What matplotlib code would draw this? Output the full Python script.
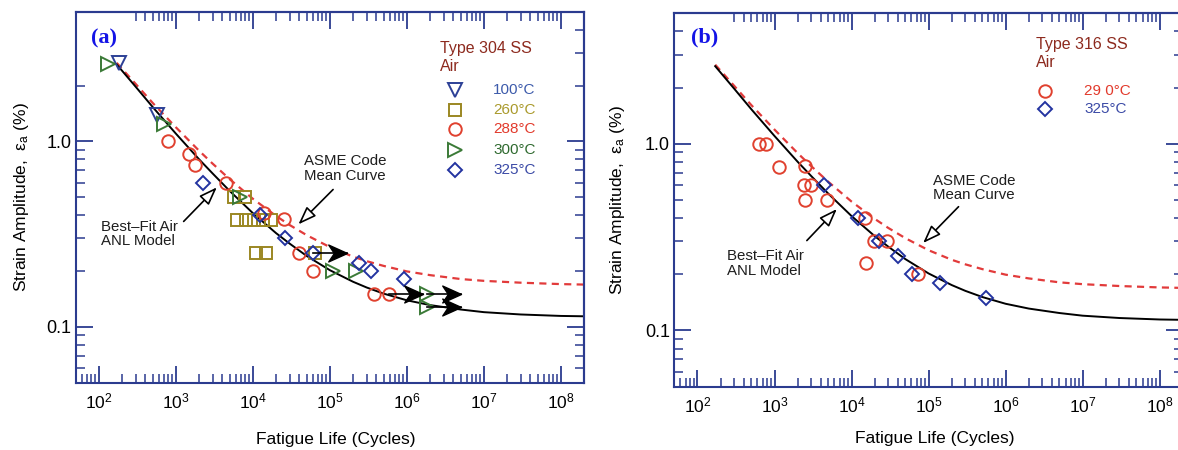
import matplotlib
matplotlib.use("Agg")
import matplotlib.pyplot as plt
from matplotlib.ticker import FixedLocator, NullFormatter
from matplotlib.path import Path

plt.rcParams['font.family'] = ['Liberation Sans', 'DejaVu Sans']
plt.rcParams['mathtext.fontset'] = 'custom'
plt.rcParams['mathtext.rm'] = 'Liberation Sans'
plt.rcParams['mathtext.it'] = 'Liberation Sans:italic'

# ---- data (N = cycles, eps = strain amplitude %) ----
# panel (a): Type 304 SS in air
a_100_N = [180, 560]
a_100_eps = [2.65, 1.38]
a_260_N = [5700, 8000, 6300, 8100, 10400, 13500, 17000, 11000, 15000, 64000]
a_260_eps = [0.50, 0.50, 0.375, 0.375, 0.375, 0.375, 0.375, 0.25, 0.25, 0.25]
a_288_N = [780, 1500, 1780, 4500, 14000, 25000, 40000, 60000, 370000, 580000]
a_288_eps = [1.0, 0.85, 0.75, 0.60, 0.41, 0.38, 0.25, 0.20, 0.15, 0.15]
a_300_N = [130, 700, 6800, 110000, 220000, 1.8e6, 1.8e6]
a_300_eps = [2.6, 1.24, 0.50, 0.20, 0.20, 0.15, 0.128]
a_325_N = [2260, 12300, 26000, 60000, 240000, 340000, 910000]
a_325_eps = [0.60, 0.40, 0.30, 0.25, 0.22, 0.20, 0.18]
a_runout_N = [60000, 580000, 1.8e6, 1.8e6]
a_runout_eps = [0.25, 0.15, 0.15, 0.128]

# panel (b): Type 316 SS in air
b_290_N = [625, 775, 1150, 2500, 2400, 3000, 2500, 4800, 15000, 19400, 29000, 15500, 74000]
b_290_eps = [1.0, 1.0, 0.75, 0.76, 0.60, 0.60, 0.50, 0.50, 0.40, 0.30, 0.30, 0.23, 0.20]
b_325_N = [4350, 12300, 22500, 40000, 61000, 141000, 560000]
b_325_eps = [0.60, 0.40, 0.30, 0.25, 0.20, 0.18, 0.15]

# curves (same in both panels)
curve_N = [170, 300, 500, 1000, 2000, 3000, 5000, 1e4, 2e4, 3e4, 5e4, 1e5, 2e5,
           3e5, 5e5, 1e6, 2e6, 5e6, 1e7, 3e7, 1e8, 2e8]
fit_eps = [2.6, 1.97, 1.53, 1.10, 0.80, 0.671, 0.54, 0.41, 0.32, 0.281, 0.241, 0.202,
           0.175, 0.163, 0.151, 0.139, 0.131, 0.124, 0.120, 0.1166, 0.1145, 0.114]
asme_eps = [2.65, 2.04, 1.61, 1.19, 0.89, 0.758, 0.625, 0.49, 0.396, 0.354, 0.312, 0.269,
            0.239, 0.226, 0.213, 0.199, 0.190, 0.181, 0.177, 0.173, 0.170, 0.169]

x_major = [1e2, 1e3, 1e4, 1e5, 1e6, 1e7, 1e8]
x_major_labels = [r'$\mathregular{10^{%d}}$' % k for k in range(2, 9)]
x_minor = [m * 10 ** d for d in range(1, 8) for m in range(2, 10) if 50 < m * 10 ** d < 1e8]
y_minor = [0.06, 0.07, 0.08, 0.09, 0.2, 0.3, 0.4, 0.5, 0.6, 0.7, 0.8, 0.9, 2, 3, 4]

# ---- styles ----
SPINE = '#2b3b8f'
MARK = {
    '100': dict(marker='v', color='#2c4096', ms=9.5),
    '260': dict(marker='s', color='#9b8722', ms=8.5),
    '288': dict(marker='o', color='#e0412f', ms=9),
    '290': dict(marker='o', color='#e0412f', ms=9),
    '300': dict(marker='>', color='#3b7a37', ms=9.5),
    '325': dict(marker='D', color='#2333a0', ms=7),
}
LABEL_COLOR = {'100': '#3d5bab', '260': '#aa9a2c', '288': '#e23a2c', '290': '#e23a2c',
               '300': '#2f6a2f', '325': '#3b4aa6'}
TITLE_COLOR = '#8d2a1e'
RUNOUT_DEC = 0.45
# concave ("stealth") arrow head, tip at the origin
STEALTH = Path([(0, 0), (-1, 0.45), (-0.7, 0), (-1, -0.45), (0, 0)],
               [Path.MOVETO, Path.LINETO, Path.LINETO, Path.LINETO, Path.CLOSEPOLY])


def setup_axes(ax, hide_left=()):
    ax.set_xscale('log')
    ax.set_yscale('log')
    ax.set_xlim(50, 2e8)
    ax.set_ylim(0.05, 5)
    ax.set_xticks(x_major, labels=x_major_labels)
    ax.xaxis.set_minor_locator(FixedLocator(x_minor))
    ax.xaxis.set_minor_formatter(NullFormatter())
    ax.set_yticks([0.1, 1.0], labels=['0.1', '1.0'])
    ax.yaxis.set_minor_locator(FixedLocator([v for v in y_minor if v not in hide_left]))
    ax.yaxis.set_minor_formatter(NullFormatter())
    ax.tick_params(which='both', direction='in', top=False, right=False, color=SPINE)
    ax.tick_params(which='major', length=12.5, width=1.3)
    ax.tick_params(which='minor', length=6.5, width=1.1)
    ax.tick_params(axis='x', which='major', pad=6, labelsize=12.5)
    ax.tick_params(axis='y', which='major', pad=3, labelsize=13)
    for s in ax.spines.values():
        s.set_color(SPINE)
        s.set_linewidth(1.5)
    top = ax.secondary_xaxis('top')
    top.xaxis.set_major_locator(FixedLocator(x_major[1:]))
    top.xaxis.set_minor_locator(FixedLocator([v for v in x_minor if v >= 300]))
    top.xaxis.set_major_formatter(NullFormatter())
    top.xaxis.set_minor_formatter(NullFormatter())
    right = ax.secondary_yaxis('right')
    right.yaxis.set_major_locator(FixedLocator([0.1, 1.0]))
    right.yaxis.set_minor_locator(FixedLocator(y_minor))
    right.yaxis.set_major_formatter(NullFormatter())
    right.yaxis.set_minor_formatter(NullFormatter())
    for sec in (top, right):
        sec.tick_params(which='both', direction='in', color=SPINE)
        sec.tick_params(which='major', length=12.5, width=1.3)
        sec.tick_params(which='minor', length=6.5, width=1.1)
        for s in sec.spines.values():
            s.set_color(SPINE)
            s.set_linewidth(1.5)


def draw_curves(ax):
    ax.plot(curve_N, asme_eps, color='#e23b3b', lw=1.6, dashes=(3.2, 2.4), zorder=2)
    ax.plot(curve_N, fit_eps, color='black', lw=1.4, zorder=2)


def draw_points(ax, key, N, eps):
    st = MARK[key]
    ax.plot(N, eps, ls='none', marker=st['marker'], ms=st['ms'], mfc='none',
            mec=st['color'], mew=1.4, zorder=3)


def draw_runouts(ax, N, eps):
    for n, e in zip(N, eps):
        tip = n * 10 ** RUNOUT_DEC
        ax.plot([n, tip], [e, e], color='black', lw=1.2, zorder=4)
        ax.plot([tip], [e], ls='none', marker=STEALTH, ms=27, mfc='black', mec='black',
                mew=1.0, zorder=4)


def note(ax, text, txt_xy, tail, tip):
    ax.text(txt_xy[0], txt_xy[1], text, ha='left', va='center', fontsize=10.8,
            color='#1e1e1e', linespacing=1.05)
    ax.annotate('', xy=tip, xytext=tail,
                arrowprops=dict(arrowstyle='-|>,head_length=1.1,head_width=0.4',
                                fc='white', ec='black', lw=1.2, mutation_scale=10,
                                shrinkA=0, shrinkB=0))


def legend(ax, x_title, ys, x_mk, x_lab, title, keys, labels):
    ax.text(x_title, ys[0], title, transform=ax.transAxes, color=TITLE_COLOR,
            fontsize=11.5, va='center')
    ax.text(x_title, ys[1], 'Air', transform=ax.transAxes, color=TITLE_COLOR,
            fontsize=11.5, va='center')
    for key, lab, y in zip(keys, labels, ys[2:]):
        st = MARK[key]
        ax.plot([x_mk], [y], transform=ax.transAxes, ls='none', marker=st['marker'],
                ms=st['ms'], mfc='none', mec=st['color'], mew=1.4, clip_on=False)
        ax.text(x_lab, y, lab, transform=ax.transAxes, color=LABEL_COLOR[key],
                fontsize=11, va='center')


fig = plt.figure(figsize=(11.78, 4.5), dpi=100)
ax_a = fig.add_axes([0.0643, 0.1496, 0.4315, 0.8244])
ax_b = fig.add_axes([0.5724, 0.1407, 0.4317, 0.8300])

ylab = 'Strain Amplitude,  ε$_\\mathregular{a}$ (%)'
xlab = 'Fatigue Life (Cycles)'

# ---- panel (a) ----
setup_axes(ax_a, hide_left=(3, 4))
draw_curves(ax_a)
draw_points(ax_a, '100', a_100_N, a_100_eps)
draw_points(ax_a, '260', a_260_N, a_260_eps)
draw_points(ax_a, '288', a_288_N, a_288_eps)
draw_points(ax_a, '300', a_300_N, a_300_eps)
draw_points(ax_a, '325', a_325_N, a_325_eps)
draw_runouts(ax_a, a_runout_N, a_runout_eps)
note(ax_a, 'Best\u2013Fit Air\nANL Model', (106, 0.316), (1260, 0.37), (3400, 0.565))
note(ax_a, 'ASME Code\nMean Curve', (4.6e4, 0.715), (1.1e5, 0.55), (3.9e4, 0.357))
legend(ax_a, 0.717, [0.902, 0.851, 0.789, 0.735, 0.684, 0.627, 0.573], 0.746, 0.821,
       'Type 304 SS', ['100', '260', '288', '300', '325'],
       ['100°C', '260°C', '288°C', '300°C', '325°C'])
ax_a.text(0.0557, 0.929, '(a)', transform=ax_a.transAxes, ha='center', va='center',
          fontsize=16, fontweight='bold', family='Liberation Serif', color='#1414e6')
ax_a.set_xlabel(xlab, fontsize=12.5, va='center')
ax_a.xaxis.set_label_coords(0.512, -0.152)
ax_a.set_ylabel(ylab, fontsize=12.5, va='center')
ax_a.yaxis.set_label_coords(-0.1076, 0.5)

# ---- panel (b) ----
setup_axes(ax_b)
draw_curves(ax_b)
draw_points(ax_b, '290', b_290_N, b_290_eps)
draw_points(ax_b, '325', b_325_N, b_325_eps)
note(ax_b, 'Best\u2013Fit Air\nANL Model', (245, 0.228), (2630, 0.303), (6450, 0.447))
note(ax_b, 'ASME Code\nMean Curve', (1.15e5, 0.58), (2.45e5, 0.46), (8.5e4, 0.294))
legend(ax_b, 0.711, [0.915, 0.867, 0.792, 0.744], 0.729, 0.806,
       'Type 316 SS', ['290', '325'], ['29 0°C', '325°C'])
ax_b.text(0.0604, 0.934, '(b)', transform=ax_b.transAxes, ha='center', va='center',
          fontsize=16, fontweight='bold', family='Liberation Serif', color='#1414e6')
ax_b.set_xlabel(xlab, fontsize=12.5, va='center')
ax_b.xaxis.set_label_coords(0.513, -0.140)
ax_b.set_ylabel(ylab, fontsize=12.5, va='center')
ax_b.yaxis.set_label_coords(-0.1107, 0.5)

fig.savefig('out.png', dpi=100)
